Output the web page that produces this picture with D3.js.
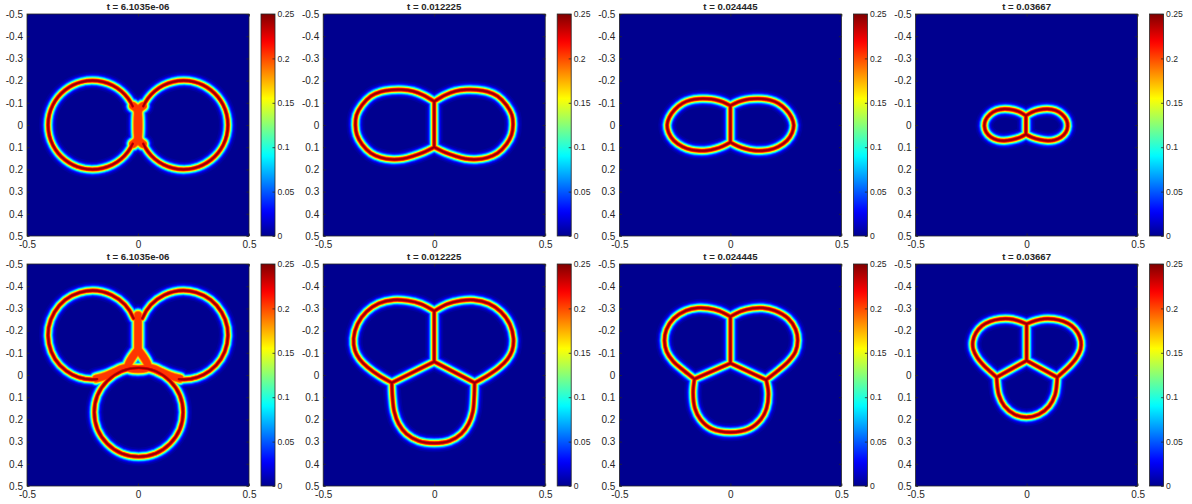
<!DOCTYPE html>
<html>
<head>
<meta charset="utf-8">
<script src="https://cdn.jsdelivr.net/npm/d3@7"></script>
<style>
  body { margin: 0; background: #fff; }
  svg text { font-family: "Liberation Sans", Arial, Helvetica, sans-serif; fill: #262626; }
</style>
</head>
<body>
<svg id="chart" width="1192" height="504"></svg>
<script>
// ---- data (domain units, y grows downward) ----
const titles = ["t = 6.1035e-06", "t = 0.012225", "t = 0.024445", "t = 0.03667"];
const axisTicksY = [-0.5, -0.4, -0.3, -0.2, -0.1, 0, 0.1, 0.2, 0.3, 0.4, 0.5];
const axisTicksX = [-0.5, 0, 0.5];
const colorTicks = [0, 0.05, 0.1, 0.15, 0.2, 0.25];

// two bubbles. arcs: [cx, cy, r, startDeg, endDeg]
const pair0Arcs = [[-0.205, 0, 0.2, 25, 335], [0.205, 0, 0.2, 205, 515]];
const pair0Seams = [
  [[-0.022, -0.086], [-0.006, -0.072], [0, -0.055], [0, 0.055], [-0.006, 0.072], [-0.022, 0.086]],
  [[0.022, -0.086], [0.006, -0.072], [0, -0.055], [0, 0.055], [0.006, 0.072], [0.022, 0.086]]
];

const pair1Left = [[0, -0.106], [-0.05, -0.135], [-0.095, -0.152], [-0.145, -0.159], [-0.192, -0.158], [-0.24, -0.15], [-0.285, -0.13], [-0.325, -0.09], [-0.35, -0.045], [-0.355, 0], [-0.348, 0.045], [-0.325, 0.087], [-0.285, 0.127], [-0.24, 0.147], [-0.19, 0.155], [-0.14, 0.152], [-0.095, 0.14], [-0.05, 0.124], [0, 0.1]];
const pair1Right = [[0, -0.106], [0.05, -0.135], [0.095, -0.152], [0.145, -0.159], [0.192, -0.158], [0.24, -0.15], [0.285, -0.13], [0.325, -0.09], [0.35, -0.045], [0.355, 0], [0.348, 0.045], [0.325, 0.087], [0.285, 0.127], [0.24, 0.147], [0.19, 0.155], [0.14, 0.152], [0.095, 0.14], [0.05, 0.124], [0, 0.1]];
const pair1Wall = [[0, -0.106], [0, 0.1]];

const pair2Left = [[0, -0.087], [-0.035, -0.104], [-0.07, -0.114], [-0.105, -0.118], [-0.14, -0.118], [-0.18, -0.112], [-0.215, -0.098], [-0.25, -0.07], [-0.275, -0.035], [-0.285, 0], [-0.278, 0.035], [-0.255, 0.07], [-0.215, 0.098], [-0.175, 0.112], [-0.14, 0.116], [-0.105, 0.115], [-0.07, 0.108], [-0.035, 0.096], [0, 0.078]];
const pair2Right = [[0, -0.087], [0.035, -0.104], [0.07, -0.114], [0.105, -0.118], [0.14, -0.118], [0.18, -0.112], [0.215, -0.098], [0.25, -0.07], [0.275, -0.035], [0.285, 0], [0.278, 0.035], [0.255, 0.07], [0.215, 0.098], [0.175, 0.112], [0.14, 0.116], [0.105, 0.115], [0.07, 0.108], [0.035, 0.096], [0, 0.078]];
const pair2Wall = [[0, -0.087], [0, 0.078]];

const pair3Left = [[-0.003, -0.042], [-0.03, -0.058], [-0.06, -0.068], [-0.1, -0.072], [-0.135, -0.066], [-0.165, -0.048], [-0.185, -0.022], [-0.19, 0.005], [-0.182, 0.032], [-0.16, 0.055], [-0.13, 0.068], [-0.1, 0.071], [-0.065, 0.066], [-0.03, 0.056], [-0.003, 0.042]];
const pair3Right = [[-0.003, -0.042], [0.025, -0.058], [0.055, -0.068], [0.095, -0.072], [0.13, -0.066], [0.16, -0.048], [0.18, -0.022], [0.185, 0.005], [0.177, 0.032], [0.155, 0.055], [0.125, 0.068], [0.095, 0.071], [0.06, 0.066], [0.025, 0.056], [-0.003, 0.042]];
const pair3Wall = [[-0.003, -0.042], [-0.003, 0.042]];

// three bubbles
const trio0Arcs = [[-0.205, -0.18, 0.2, 84, 338], [0.205, -0.18, 0.2, 202, 456], [0.003, 0.168, 0.2, 0, 360]];
const trio0Seams = [
  [[0, -0.27], [0, -0.114]],
  [[0, -0.114], [-0.045, -0.036], [0.045, -0.036], [0, -0.114]],
  [[-0.045, -0.036], [-0.075, -0.027], [-0.105, -0.013], [-0.145, 0.004], [-0.188, 0.016]],
  [[0.045, -0.036], [0.075, -0.027], [0.105, -0.013], [0.145, 0.004], [0.188, 0.016]]
];

const trio1TL = [[0, -0.288], [-0.06, -0.32], [-0.12, -0.335], [-0.183, -0.338], [-0.25, -0.322], [-0.305, -0.285], [-0.345, -0.23], [-0.363, -0.165], [-0.357, -0.11], [-0.335, -0.07], [-0.3, -0.035], [-0.243, 0.006], [-0.191, 0.035]];
const trio1TR = [[0, -0.288], [0.06, -0.32], [0.12, -0.335], [0.177, -0.338], [0.245, -0.322], [0.3, -0.285], [0.34, -0.23], [0.357, -0.165], [0.351, -0.11], [0.329, -0.07], [0.294, -0.035], [0.235, 0.006], [0.182, 0.035]];
const trio1B = [[-0.191, 0.035], [-0.188, 0.1], [-0.18, 0.165], [-0.16, 0.22], [-0.125, 0.265], [-0.07, 0.297], [0, 0.307], [0.07, 0.297], [0.122, 0.265], [0.155, 0.22], [0.174, 0.165], [0.18, 0.1], [0.182, 0.035]];
const trio1Walls = [[[0, -0.288], [0, -0.06]], [[0, -0.06], [-0.191, 0.035]], [[0, -0.06], [0.182, 0.035]]];

const trio2TL = [[0, -0.263], [-0.05, -0.288], [-0.1, -0.3], [-0.147, -0.302], [-0.2, -0.29], [-0.255, -0.255], [-0.288, -0.205], [-0.297, -0.155], [-0.287, -0.105], [-0.258, -0.062], [-0.21, -0.02], [-0.162, 0.018]];
const trio2TR = [[0, -0.263], [0.05, -0.288], [0.1, -0.3], [0.146, -0.302], [0.2, -0.29], [0.26, -0.255], [0.294, -0.205], [0.303, -0.155], [0.293, -0.105], [0.262, -0.062], [0.212, -0.018], [0.161, 0.022]];
const trio2B = [[-0.162, 0.018], [-0.168, 0.08], [-0.16, 0.15], [-0.135, 0.2], [-0.085, 0.242], [0, 0.258], [0.085, 0.242], [0.137, 0.2], [0.163, 0.15], [0.171, 0.08], [0.161, 0.022]];
const trio2Walls = [[[0, -0.263], [0, -0.053]], [[0, -0.053], [-0.162, 0.018]], [[0, -0.053], [0.161, 0.022]]];

const trio3TL = [[0, -0.23], [-0.04, -0.245], [-0.08, -0.253], [-0.12, -0.252], [-0.162, -0.242], [-0.2, -0.222], [-0.228, -0.19], [-0.242, -0.152], [-0.24, -0.115], [-0.222, -0.078], [-0.192, -0.042], [-0.162, -0.014], [-0.135, 0.01]];
const trio3TR = [[0, -0.23], [0.04, -0.245], [0.08, -0.253], [0.122, -0.252], [0.165, -0.242], [0.203, -0.222], [0.231, -0.19], [0.245, -0.152], [0.243, -0.115], [0.225, -0.078], [0.195, -0.042], [0.165, -0.014], [0.138, 0.01]];
const trio3B = [[-0.135, 0.01], [-0.132, 0.05], [-0.125, 0.09], [-0.1, 0.14], [-0.055, 0.177], [0, 0.19], [0.055, 0.177], [0.102, 0.14], [0.128, 0.09], [0.135, 0.05], [0.138, 0.01]];
const trio3Walls = [[[0, -0.23], [0, -0.065]], [[0, -0.065], [-0.135, 0.01]], [[0, -0.065], [0.138, 0.01]]];

const panels = [
  { title: titles[0], arcs: pair0Arcs, seams: pair0Seams, curves: [] },
  { title: titles[1], arcs: [], seams: [], curves: [pair1Left, pair1Right, pair1Wall] },
  { title: titles[2], arcs: [], seams: [], curves: [pair2Left, pair2Right, pair2Wall] },
  { title: titles[3], arcs: [], seams: [], curves: [pair3Left, pair3Right, pair3Wall] },
  { title: titles[0], arcs: trio0Arcs, seams: trio0Seams, curves: [] },
  { title: titles[1], arcs: [], seams: [], curves: [trio1TL, trio1TR, trio1B, ...trio1Walls] },
  { title: titles[2], arcs: [], seams: [], curves: [trio2TL, trio2TR, trio2B, ...trio2Walls] },
  { title: titles[3], arcs: [], seams: [], curves: [trio3TL, trio3TR, trio3B, ...trio3Walls] }
];

// ---- layout ----
const size = 222;
const colStep = 296.2, rowStep = 250;
const ink = "#262626";
const vmax = 0.25;

const x = d3.scaleLinear().domain([-0.5, 0.5]).range([0, size]);
const y = d3.scaleLinear().domain([-0.5, 0.5]).range([0, size]);
const cbScale = d3.scaleLinear().domain([0, vmax]).range([size, 0]);

// jet colormap
const jetPos = [0, 0.111, 0.365, 0.619, 0.873, 1];
const jetCol = ["#00008f", "#0000ff", "#00ffff", "#ffff00", "#ff0000", "#800000"];
const jet = d3.scaleLinear().domain(jetPos.map(p => p * vmax)).range(jetCol).clamp(true);

// interface profile: value = vmax * sech^2(d / w); seams get a flat red top
const w = 3.4, plateau = 2.6, seamPeak = 0.84;
const levels = d3.range(36).map(i => 0.02 + i * (0.985 - 0.02) / 35);

const line = d3.line().x(d => x(d[0])).y(d => y(d[1])).curve(d3.curveCatmullRom.alpha(0.5));
const arcPath = a => {
  const p = d3.path();
  p.arc(x(a[0]), y(a[1]), x(a[2]) - x(0), a[3] * Math.PI / 180, a[4] * Math.PI / 180);
  return p.toString();
};

const svg = d3.select("#chart");
const defs = svg.append("defs");

const grad = defs.append("linearGradient").attr("id", "jetGrad")
  .attr("x1", 0).attr("y1", 1).attr("x2", 0).attr("y2", 0);
d3.range(0, 1.0001, 0.02).forEach(t => {
  grad.append("stop").attr("offset", t).attr("stop-color", jet(t * vmax));
});

panels.forEach((pn, i) => {
  const col = i % 4, row = Math.floor(i / 4);
  const g = svg.append("g")
    .attr("transform", `translate(${27 + col * colStep},${14 + row * rowStep})`);

  defs.append("clipPath").attr("id", "clip" + i)
    .append("rect").attr("width", size).attr("height", size);

  g.append("rect").attr("width", size).attr("height", size).attr("fill", jet(0));

  const field = g.append("g").attr("clip-path", `url(#clip${i})`)
    .attr("fill", "none").attr("stroke-linecap", "round").attr("stroke-linejoin", "round");

  // draw low values first so the highest value wins where interfaces meet
  levels.forEach(t => {
    const ringW = 2 * w * Math.acosh(1 / Math.sqrt(t));
    const color = jet(t * vmax);
    pn.curves.forEach(c => {
      field.append("path").attr("d", line(c)).attr("stroke", color).attr("stroke-width", ringW);
    });
    pn.arcs.forEach(a => {
      field.append("path").attr("d", arcPath(a)).attr("stroke", color).attr("stroke-width", ringW);
    });
    if (t <= seamPeak) {
      const seamW = 2 * (plateau + w * Math.acosh(Math.sqrt(seamPeak / t)));
      pn.seams.forEach(s => {
        field.append("path").attr("d", line(s)).attr("stroke", color).attr("stroke-width", seamW);
      });
    }
  });

  // axes, MATLAB style: inward ticks on all sides
  const fmt = d => String(d);
  const left = g.append("g").call(d3.axisLeft(y).tickValues(axisTicksY).tickFormat(fmt)
    .tickSizeInner(-2.5).tickSizeOuter(0).tickPadding(4));
  const right = g.append("g").attr("transform", `translate(${size},0)`)
    .call(d3.axisRight(y).tickValues(axisTicksY).tickFormat("").tickSizeInner(-2.5).tickSizeOuter(0));
  const bottom = g.append("g").attr("transform", `translate(0,${size})`)
    .call(d3.axisBottom(x).tickValues(axisTicksX).tickFormat(fmt)
      .tickSizeInner(-2.5).tickSizeOuter(0).tickPadding(5));
  const top = g.append("g")
    .call(d3.axisTop(x).tickValues(axisTicksX).tickFormat("").tickSizeInner(-2.5).tickSizeOuter(0));
  [left, right, bottom, top].forEach(ax => {
    ax.select(".domain").remove();
    ax.selectAll("line").attr("stroke", ink).attr("stroke-width", 0.8);
    ax.selectAll("text").attr("font-size", 10).attr("fill", ink)
      .style("font-family", '"Liberation Sans", Arial, sans-serif');
  });
  g.append("rect").attr("width", size).attr("height", size)
    .attr("fill", "none").attr("stroke", ink).attr("stroke-width", 0.8);

  g.append("text").attr("x", size / 2).attr("y", -4.5)
    .attr("text-anchor", "middle").attr("font-size", 9.6).attr("font-weight", "bold")
    .text(pn.title);

  // colorbar
  const cb = g.append("g").attr("transform", `translate(234,0)`);
  cb.append("rect").attr("width", 14).attr("height", size).attr("fill", "url(#jetGrad)");
  const cbAxis = cb.append("g").attr("transform", `translate(14,0)`)
    .call(d3.axisRight(cbScale).tickValues(colorTicks).tickFormat(fmt)
      .tickSizeInner(-2.5).tickSizeOuter(0).tickPadding(2.5));
  cbAxis.select(".domain").remove();
  cbAxis.selectAll("line").attr("stroke", ink).attr("stroke-width", 0.8);
  cbAxis.selectAll("text").attr("font-size", 8.6).attr("fill", ink)
    .style("font-family", '"Liberation Sans", Arial, sans-serif');
  cb.append("rect").attr("width", 14).attr("height", size)
    .attr("fill", "none").attr("stroke", ink).attr("stroke-width", 0.8);
});
</script>
</body>
</html>
